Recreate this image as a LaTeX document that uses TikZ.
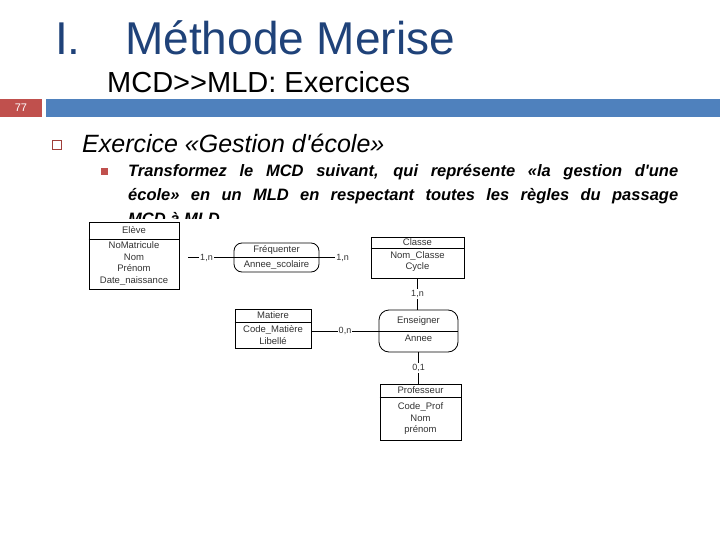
\documentclass[tikz,border=0pt]{standalone}
\usepackage{fontspec}
\setmainfont{Liberation Sans}
\usepackage{tikz}
\usetikzlibrary{calc}
\definecolor{titrebleu}{HTML}{1F4279}
\definecolor{barrebleu}{HTML}{4F81BD}
\definecolor{barrerouge}{HTML}{C0504D}
\definecolor{puce}{HTML}{A03E39}
\tikzset{
  entite/.style={draw, thick, minimum width=#1, inner sep=0pt},
  assoc/.style={draw, thick, rounded corners=8pt, inner sep=0pt},
  attr/.style={align=center, inner sep=0pt, text=black!80, font=\fontsize{9.5}{11.5}\selectfont},
  card/.style={fill=white, inner sep=1pt, text=black!80, font=\fontsize{9}{10}\selectfont},
  lien/.style={thick}
}
\begin{document}
\begin{tikzpicture}[x=1pt, y=-1pt]
\useasboundingbox (0,0) rectangle (720,540);
% Titre
\node[anchor=base west, inner sep=0pt, text=titrebleu, font=\fontsize{46}{50}\selectfont] (num) at (55,55) {I.};
\node[anchor=base west, inner sep=0pt, text=titrebleu, font=\fontsize{46}{50}\selectfont] (titre) at (125,55) {Méthode Merise};
\node[anchor=base west, inner sep=0pt, font=\fontsize{29}{32}\selectfont] (soustitre) at (107,93) {MCD>{}>MLD: Exercices};
% Barre
\fill[barrerouge] (0,99) rectangle (42,117);
\fill[barrebleu] (46,99) rectangle (720,117);
\node[text=white, font=\fontsize{11}{12}\selectfont] (page) at (21,108) {77};
% Puces et texte
\draw[puce, line width=1.8pt] (52.5,140.5) rectangle (61.5,149.5);
\node[anchor=base west, inner sep=0pt, font=\fontsize{25}{28}\selectfont\itshape] (exo) at (82,153) {Exercice «Gestion d\textquotesingle école»};
\fill[barrerouge] (100.5,168.5) rectangle (107.5,175.5);
\node[anchor=base west, inner sep=0pt, text width=550pt, align=justify,
  font=\fontsize{16.5}{24}\selectfont\bfseries\itshape] (consigne) at (128,177)
  {Transformez le MCD suivant, qui représente «la gestion d\textquotesingle une\linebreak
   école» en un MLD en respectant toutes les règles du passage\linebreak
   MCD à MLD};
% fond blanc du schéma
\fill[white] (84,219) rectangle (470,446);
% Entités
\node[entite=90pt, minimum height=67pt] (eleve) at (134,255.5) {};
\draw[thick] (eleve.west |- 0,239) -- (eleve.east |- 0,239);
\node[attr] (eleve-t) at (134,230) {Elève};
\node[attr] (eleve-a) at (134,263.5) {NoMatricule\\Nom\\Prénom\\Date\_naissance};

\node[entite=93pt, minimum height=41pt] (classe) at (417.5,257.5) {};
\draw[thick] (classe.west |- 0,248) -- (classe.east |- 0,248);
\node[attr] (classe-t) at (417.5,242.5) {Classe};
\node[attr] (classe-a) at (417.5,261.5) {Nom\_Classe\\Cycle};

\node[entite=76pt, minimum height=39pt] (matiere) at (273,328.5) {};
\draw[thick] (matiere.west |- 0,322) -- (matiere.east |- 0,322);
\node[attr] (matiere-t) at (273,315.5) {Matiere};
\node[attr] (matiere-a) at (273,335) {Code\_Matière\\Libellé};

\node[entite=81pt, minimum height=56pt] (prof) at (420.5,412) {};
\draw[thick] (prof.west |- 0,397) -- (prof.east |- 0,397);
\node[attr] (prof-t) at (420.5,390.5) {Professeur};
\node[attr] (prof-a) at (420.5,419) {Code\_Prof\\Nom\\prénom};
% Associations
\node[assoc, minimum width=85pt, minimum height=29pt] (frequenter) at (276.5,257.5) {};
\draw[thick] (frequenter.west) -- (frequenter.east);
\node[attr] (frequenter-t) at (276.5,250) {Fréquenter};
\node[attr] (frequenter-a) at (276.5,265) {Annee\_scolaire};

\node[assoc, minimum width=79pt, minimum height=42pt, rounded corners=10pt] (enseigner) at (418.5,331) {};
\draw[thick] (enseigner.west) -- (enseigner.east);
\node[attr] (enseigner-t) at (418.5,321) {Enseigner};
\node[attr] (enseigner-a) at (418.5,338.5) {Annee};
% Liens
\draw[lien, shorten <=9pt] (eleve.east |- frequenter.west) -- node[card] {1,n} (frequenter.west);
\coordinate (versclasse) at (335,257.5);
\draw[lien] (frequenter.east) -- (versclasse) node[card, anchor=west] {1,n};
\draw[lien] (classe.south) -- node[card] {1,n} (classe.south |- enseigner.north);
\draw[lien] (matiere.east |- enseigner.west) -- node[card] {0,n} (enseigner.west);
\draw[lien] (enseigner.south) -- node[card] {0,1} (enseigner.south |- prof.north);
\end{tikzpicture}
\end{document}
